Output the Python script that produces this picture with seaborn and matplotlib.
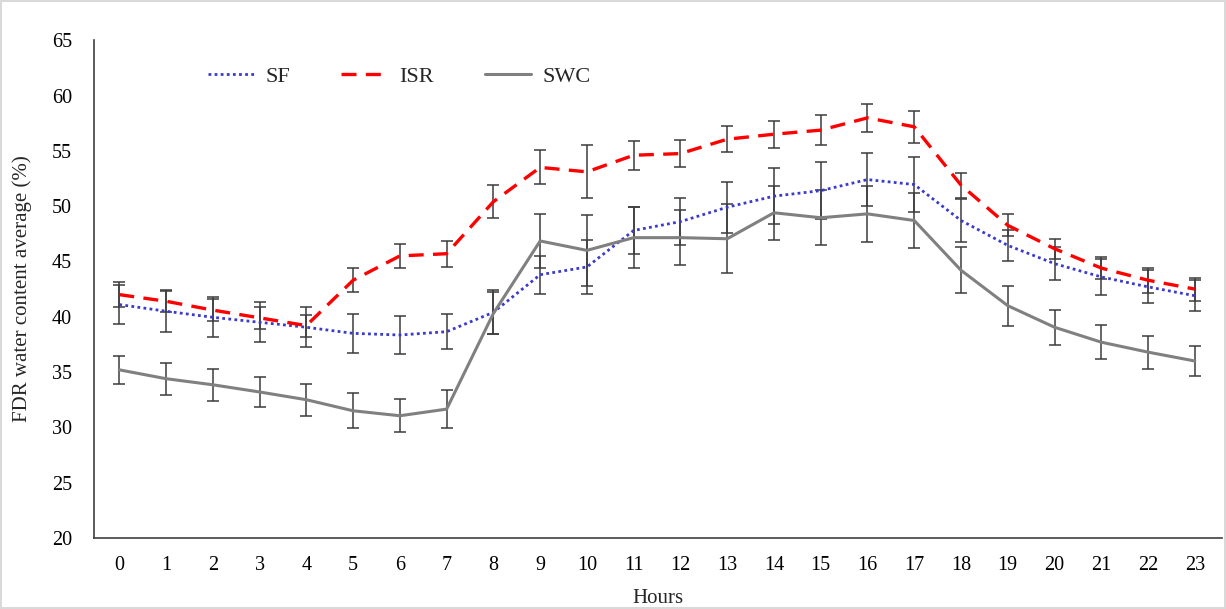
import numpy as np
import pandas as pd
import matplotlib
matplotlib.use("Agg")
import matplotlib.pyplot as plt
import seaborn as sns

hours = list(range(24))

sf = [41.1, 40.5, 39.95, 39.5, 39.05, 38.5, 38.35, 38.65, 40.4, 43.8, 44.5, 47.8,
      48.6, 49.9, 50.9, 51.4, 52.4, 51.95, 48.7, 46.45, 44.8, 43.6, 42.7, 41.9]
sf_err = [1.8, 1.85, 1.8, 1.8, 1.8, 1.74, 1.72, 1.56, 2.0, 1.7, 2.4, 2.1,
          2.15, 2.3, 2.55, 2.6, 2.4, 2.5, 1.95, 1.4, 1.5, 1.6, 1.5, 1.4]

isr = [42.0, 41.4, 40.6, 39.9, 39.2, 43.3, 45.5, 45.7, 50.4, 53.5, 53.1, 54.6,
       54.75, 56.05, 56.5, 56.87, 57.98, 57.17, 51.9, 48.26, 46.15, 44.4, 43.3, 42.5]
isr_err = [1.1, 1.0, 1.0, 1.0, 1.0, 1.1, 1.1, 1.16, 1.5, 1.54, 2.4, 1.3,
           1.2, 1.15, 1.24, 1.34, 1.27, 1.45, 1.13, 1.0, 0.9, 1.0, 1.13, 1.04]

swc = [35.2, 34.4, 33.85, 33.2, 32.5, 31.5, 31.05, 31.65, 40.3, 46.85, 46.0, 47.15,
       47.15, 47.05, 49.4, 48.95, 49.3, 48.7, 44.2, 41.0, 39.05, 37.7, 36.8, 36.0]
swc_err = [1.27, 1.43, 1.43, 1.39, 1.46, 1.57, 1.5, 1.74, 1.9, 2.4, 3.2, 2.75,
           2.5, 3.1, 2.45, 2.5, 2.5, 2.5, 2.08, 1.8, 1.6, 1.55, 1.5, 1.4]

series = ["SF", "ISR", "SWC"]

df = pd.DataFrame({
    "Hours": hours * 3,
    "value": sf + isr + swc,
    "err": sf_err + isr_err + swc_err,
    "series": [s for s in series for _ in hours],
})

sns.set_style("white")
plt.rcParams["font.family"] = ["Liberation Serif", "DejaVu Serif"]
plt.rcParams["font.size"] = 14

fig = plt.figure(figsize=(12.26, 6.09), dpi=100)
fig.patch.set_edgecolor("#d9d9d9")
fig.patch.set_linewidth(1.5)
ax = fig.add_axes([0.0767, 0.1166, 0.92, 0.8174])

palette = {"SF": "#3a3acc", "ISR": "#ff0000", "SWC": "#808080"}
styles = {"SF": (0, (1, 1.2)), "ISR": (0, (4.5, 2.8)), "SWC": "-"}
widths = {"SF": 2.0, "ISR": 2.4, "SWC": 2.2}

# error bars first so the lines sit on top
for s in series:
    sub = df[df["series"] == s]
    ax.errorbar(sub["Hours"], sub["value"], yerr=sub["err"], fmt="none",
                ecolor="#3c3c3c", elinewidth=1.1, capsize=4, capthick=1.1, zorder=2)

for s in series:
    sub = df[df["series"] == s]
    sns.lineplot(data=sub, x="Hours", y="value", ax=ax, color=palette[s],
                 linestyle=styles[s], linewidth=widths[s], label=s, zorder=3)

ax.set_xlim(-0.54, 23.58)
ax.set_ylim(20, 65)
ax.set_xticks(hours)
ax.set_xticklabels([str(h) for h in hours])
ax.set_yticks(range(20, 66, 5))
ax.tick_params(axis="both", length=0, labelsize=14.5, colors="#000000")
ax.tick_params(axis="x", pad=13)
ax.tick_params(axis="y", pad=16)

for side in ["top", "right"]:
    ax.spines[side].set_visible(False)
for side in ["left", "bottom"]:
    ax.spines[side].set_color("#404040")
    ax.spines[side].set_linewidth(1.2)

ax.set_xlabel("Hours", fontsize=15, labelpad=10)
ax.set_ylabel("FDR water content average (%)", fontsize=15, labelpad=14)

ax.legend(loc="upper left", bbox_to_anchor=(0.083, 0.988), ncol=3, frameon=False,
          fontsize=16, handlelength=2.1, columnspacing=2.3, handletextpad=0.5)

fig.savefig("out.png", dpi=100, edgecolor=fig.get_edgecolor())
